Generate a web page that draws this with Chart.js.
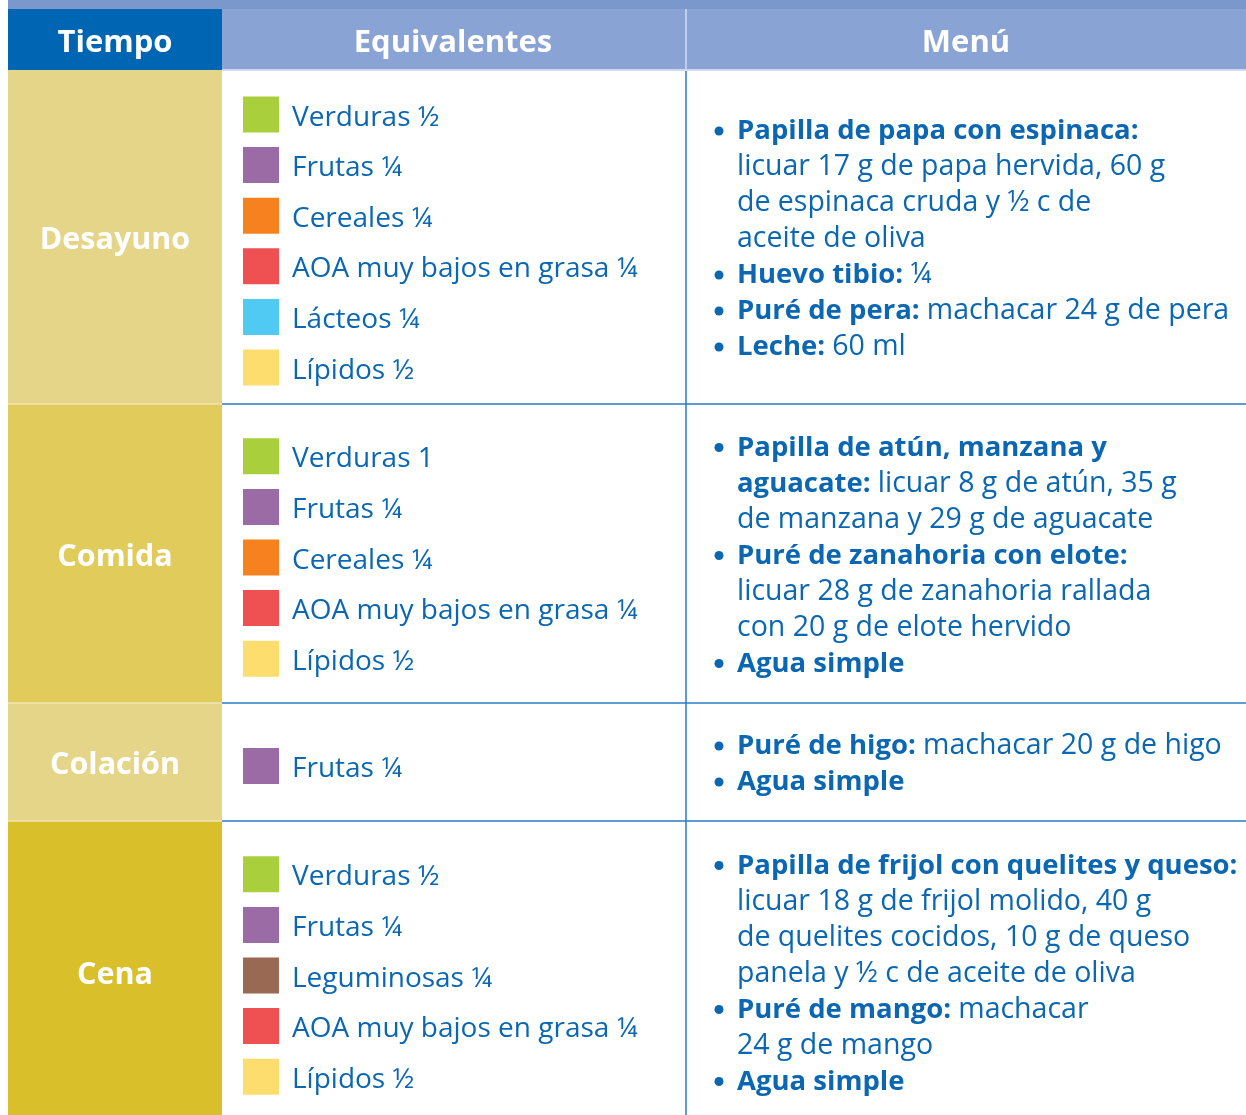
<!DOCTYPE html>
<html>
<head>
<meta charset="utf-8">
<script src="https://cdn.jsdelivr.net/npm/chart.js@4.4.1/dist/chart.umd.min.js"></script>
<style>
  html, body { margin: 0; padding: 0; background: #fff; }
  canvas { display: block; }
</style>
</head>
<body>
<canvas id="tabla" width="1246" height="1115"></canvas>
<script>
(function () {
  // ---- data ----
  const headers = ["Tiempo", "Equivalentes", "Menú"];
  const meals = ["Desayuno", "Comida", "Colación", "Cena"];

  const desayunoGroups = ["verduras", "frutas", "cereales", "aoa", "lacteos", "lipidos"];
  const desayunoLabels = ["Verduras ½", "Frutas ¼", "Cereales ¼", "AOA muy bajos en grasa ¼", "Lácteos ¼", "Lípidos ½"];
  const comidaGroups = ["verduras", "frutas", "cereales", "aoa", "lipidos"];
  const comidaLabels = ["Verduras 1", "Frutas ¼", "Cereales ¼", "AOA muy bajos en grasa ¼", "Lípidos ½"];
  const colacionGroups = ["frutas"];
  const colacionLabels = ["Frutas ¼"];
  const cenaGroups = ["verduras", "frutas", "leguminosas", "aoa", "lipidos"];
  const cenaLabels = ["Verduras ½", "Frutas ¼", "Leguminosas ¼", "AOA muy bajos en grasa ¼", "Lípidos ½"];

  // menu lines: [bullet, bold part, regular part]
  const desayunoMenu = [
    [true, "Papilla de papa con espinaca:", ""],
    [false, "", "licuar 17 g de papa hervida, 60 g"],
    [false, "", "de espinaca cruda y ½ c de"],
    [false, "", "aceite de oliva"],
    [true, "Huevo tibio:", "¼"],
    [true, "Puré de pera:", "machacar 24 g de pera"],
    [true, "Leche:", "60 ml"],
  ];
  const comidaMenu = [
    [true, "Papilla de atún, manzana y", ""],
    [false, "aguacate:", "licuar 8 g de atún, 35 g"],
    [false, "", "de manzana y 29 g de aguacate"],
    [true, "Puré de zanahoria con elote:", ""],
    [false, "", "licuar 28 g de zanahoria rallada"],
    [false, "", "con 20 g de elote hervido"],
    [true, "Agua simple", ""],
  ];
  const colacionMenu = [
    [true, "Puré de higo:", "machacar 20 g de higo"],
    [true, "Agua simple", ""],
  ];
  const cenaMenu = [
    [true, "Papilla de frijol con quelites y queso:", ""],
    [false, "", "licuar 18 g de frijol molido, 40 g"],
    [false, "", "de quelites cocidos, 10 g de queso"],
    [false, "", "panela y ½ c de aceite de oliva"],
    [true, "Puré de mango:", "machacar"],
    [false, "", "24 g de mango"],
    [true, "Agua simple", ""],
  ];

  const mealGroups = [desayunoGroups, comidaGroups, colacionGroups, cenaGroups];
  const mealLabels = [desayunoLabels, comidaLabels, colacionLabels, cenaLabels];
  const mealMenus = [desayunoMenu, comidaMenu, colacionMenu, cenaMenu];

  // ---- layout & styles ----
  const colEdges = [8, 222, 686, 1246];
  const rowEdges = [70, 404, 703, 821, 1122];
  const headerTop = 9;
  const itemStep = 50.6;
  const lineStep = 36;
  const squareX = 261;

  const groupColors = {
    verduras: "#a9cf3d",
    frutas: "#9b6ba5",
    cereales: "#f5821f",
    aoa: "#ef5052",
    lacteos: "#50c9f3",
    lipidos: "#fedd6f",
    leguminosas: "#9a6953",
  };
  const mealFills = ["#e5d588", "#e1cb5b", "#e5d588", "#d9bf2a"];
  const textBlue = "#0b67b2";
  const lineBlue = "#2a7bc5";

  const rowCenter = (i) => (rowEdges[i] + rowEdges[i + 1]) / 2;

  const datasets = meals.map((meal, i) => {
    const n = mealGroups[i].length;
    return {
      label: meal,
      data: mealGroups[i].map((g, k) => ({ x: squareX, y: rowCenter(i) + 4 + (k - (n - 1) / 2) * itemStep })),
      pointStyle: "rect",
      pointRadius: 18 / Math.SQRT1_2,
      pointHoverRadius: 18 / Math.SQRT1_2,
      pointBorderWidth: 0,
      pointBackgroundColor: mealGroups[i].map((g) => groupColors[g]),
      showLine: false,
      clip: false,
    };
  });

  const tablePlugin = {
    id: "tablePlugin",
    beforeDatasetsDraw(chart) {
      const ctx = chart.ctx;
      const px = (v) => chart.scales.x.getPixelForValue(v);
      const py = (v) => chart.scales.y.getPixelForValue(v);
      const box = (x0, y0, x1, y1, color) => {
        ctx.fillStyle = color;
        ctx.fillRect(px(x0), py(y0), px(x1) - px(x0), py(y1) - py(y0));
      };
      const line = (x0, y0, x1, y1, color, w) => {
        ctx.strokeStyle = color;
        ctx.lineWidth = w;
        ctx.beginPath();
        ctx.moveTo(px(x0), py(y0));
        ctx.lineTo(px(x1), py(y1));
        ctx.stroke();
      };
      ctx.save();
      // header
      box(colEdges[0], 0, colEdges[3], headerTop, "#7a98cb");
      box(colEdges[0], headerTop, colEdges[1], rowEdges[0], "#0066b3");
      box(colEdges[1], headerTop, colEdges[3], rowEdges[0], "#8aa3d5");
      line(colEdges[2], headerTop, colEdges[2], rowEdges[0], "#d3dcf0", 1.5);
      line(colEdges[1], rowEdges[0], colEdges[3], rowEdges[0], "#d0d9ef", 2);
      // meal cells
      meals.forEach((m, i) => box(colEdges[0], rowEdges[i], colEdges[1], rowEdges[i + 1], mealFills[i]));
      for (let i = 1; i < meals.length; i++) {
        line(colEdges[0], rowEdges[i], colEdges[1], rowEdges[i], "#f0e6b6", 1.5);
        line(colEdges[1], rowEdges[i], colEdges[3], rowEdges[i], lineBlue, 1.5);
      }
      line(colEdges[2], rowEdges[0] + 1, colEdges[2], rowEdges[4], lineBlue, 1.5);
      ctx.restore();
    },
    afterDatasetsDraw(chart) {
      const ctx = chart.ctx;
      const px = (v) => chart.scales.x.getPixelForValue(v);
      const py = (v) => chart.scales.y.getPixelForValue(v);
      ctx.save();
      ctx.textBaseline = "alphabetic";

      // header labels
      ctx.fillStyle = "#ffffff";
      ctx.font = 'bold 31px "Open Sans"';
      ctx.textAlign = "center";
      headers.forEach((h, c) => {
        ctx.fillText(h, px((colEdges[c] + colEdges[c + 1]) / 2 + (c === 1 ? -1 : 0)), py(52));
      });

      // meal names
      ctx.font = 'bold 30.5px "Open Sans"';
      meals.forEach((m, i) => ctx.fillText(m, px(115), py(rowCenter(i) + 12)));

      // equivalent labels next to each square
      ctx.textAlign = "left";
      ctx.fillStyle = textBlue;
      ctx.font = '28px "Open Sans"';
      meals.forEach((m, i) => {
        chart.getDatasetMeta(i).data.forEach((pt, k) => {
          ctx.fillText(mealLabels[i][k], pt.x + 31, pt.y + 11);
        });
      });

      // menu
      const textX = px(737);
      mealMenus.forEach((menu, i) => {
        const n = menu.length;
        menu.forEach((ln, k) => {
          const cy = py(rowCenter(i) + (k - (n - 1) / 2) * lineStep);
          if (ln[0]) {
            ctx.beginPath();
            ctx.arc(px(719), cy + 2, 4.5, 0, Math.PI * 2);
            ctx.fill();
          }
          let x = textX;
          if (ln[1]) {
            ctx.font = 'bold 27.5px "Open Sans"';
            ctx.fillText(ln[1], x, cy + 10);
            x += ctx.measureText(ln[1] + " ").width;
          }
          if (ln[2]) {
            ctx.font = '28.5px "Open Sans"';
            ctx.fillText(ln[2], x, cy + 10);
          }
        });
      });
      ctx.restore();
    },
  };

  new Chart(document.getElementById("tabla"), {
    type: "scatter",
    data: { datasets },
    options: {
      responsive: false,
      animation: false,
      devicePixelRatio: 1,
      events: [],
      layout: { padding: 0, autoPadding: false },
      plugins: { legend: { display: false }, tooltip: { enabled: false } },
      scales: {
        x: { type: "linear", display: false, min: 0, max: 1246 },
        y: { type: "linear", display: false, min: 0, max: 1115, reverse: true },
      },
    },
    plugins: [tablePlugin],
  });
})();
</script>
</body>
</html>
